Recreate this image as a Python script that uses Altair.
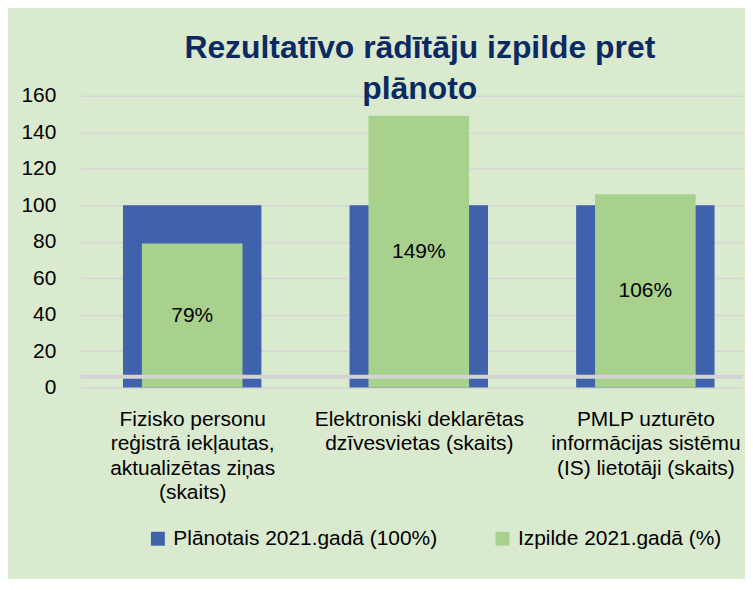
import json
import altair as alt
import pandas as pd

# ---- data ----
cat_index = [0, 1, 2]
cat_lines = [
    ["Fizisko personu", "reģistrā iekļautas,", "aktualizētas ziņas", "(skaits)"],
    ["Elektroniski deklarētas", "dzīvesvietas (skaits)"],
    ["PMLP uzturēto", "informācijas sistēmu", "(IS) lietotāji (skaits)"],
]
planned_name = "Plānotais 2021.gadā (100%)"
actual_name = "Izpilde 2021.gadā (%)"
planned = [100, 100, 100]
actual = [79, 149, 106]
y_ticks = [0, 20, 40, 60, 80, 100, 120, 140, 160]

FONT = "Liberation Sans"
BLUE = "#4062ad"
GREEN = "#a9d18e"

plan_df = pd.DataFrame({"idx": cat_index, "value": planned, "series": planned_name})
act_df = pd.DataFrame({"idx": cat_index, "value": actual, "series": actual_name})
act_df["half"] = act_df["value"] / 2
act_df["label"] = act_df["value"].astype(str) + "%"

label_expr = ""
for i, lines in zip(cat_index[:-1], cat_lines[:-1]):
    label_expr += f"datum.value == {i} ? {json.dumps(lines, ensure_ascii=False)} : "
label_expr += json.dumps(cat_lines[-1], ensure_ascii=False)

xscale = alt.Scale(domain=[-0.492, 2.431], nice=False, zero=False, padding=0)
yscale = alt.Scale(domain=[0, 160], nice=False, padding=0)
color = alt.Color(
    "series:N",
    scale=alt.Scale(domain=[planned_name, actual_name], range=[BLUE, GREEN]),
    legend=alt.Legend(
        title=None, orient="none", legendX=67, legendY=434, direction="horizontal",
        symbolType="square", symbolSize=196, symbolStrokeWidth=0, symbolOpacity=1,
        labelFont=FONT, labelFontSize=21, labelColor="#000000", columnPadding=54,
        labelOffset=5, padding=0, labelLimit=0,
    ),
)

x_axis = alt.Axis(values=cat_index, labelExpr=label_expr, grid=False, domain=False,
                  ticks=False, tickSize=0, labelFont=FONT, labelFontSize=21,
                  labelColor="#000000", labelPadding=21, labelLineHeight=24.5,
                  labelBaseline="top", labelFlush=False, labelOverlap=False,
                  labelLimit=0)
y_axis = alt.Axis(values=y_ticks, grid=True, gridColor="#d6d6d6", gridWidth=1.5,
                  domain=False, ticks=False, tickSize=0, labelFont=FONT,
                  labelFontSize=21, labelColor="#000000", labelPadding=25,
                  labelOverlap=False, labelLimit=0)

x_enc = alt.X("idx:Q", scale=xscale, title=None, axis=x_axis)

blue = alt.Chart(plan_df).mark_bar(width=139).encode(
    x=x_enc, y=alt.Y("value:Q", scale=yscale, title=None, axis=y_axis), color=color
)
green = alt.Chart(act_df).mark_bar(width=101).encode(
    x=x_enc, y=alt.Y("value:Q", scale=yscale, title=None, axis=y_axis), color=color
)
text = alt.Chart(act_df).mark_text(font=FONT, fontSize=21, color="#000000").encode(
    x=x_enc, y=alt.Y("half:Q", scale=yscale, title=None, axis=y_axis), text="label:N"
)
rule = alt.Chart(pd.DataFrame({"v": [6]})).mark_rule(color="#d3d3d3", strokeWidth=4).encode(
    y=alt.Y("v:Q", scale=yscale, title=None, axis=y_axis)
)

chart = (
    alt.layer(blue, green, rule, text)
    .properties(
        width=665,
        height=293,
        title=alt.TitleParams(
            text=["Rezultatīvo rādītāju izpilde pret", "plānoto"],
            font=FONT, fontSize=32, fontWeight="bold", color="#0b2a62",
            lineHeight=41, anchor="middle", offset=-21, dx=8,
        ),
        padding={"left": 12, "top": 23, "right": 0, "bottom": 29},
        background="#daeacf",
    )
    .configure_view(stroke=None)
    .configure_axisY(values=y_ticks, labelOverlap=False)
)

chart.save("out.html", embed_options={"renderer": "svg", "actions": False})
